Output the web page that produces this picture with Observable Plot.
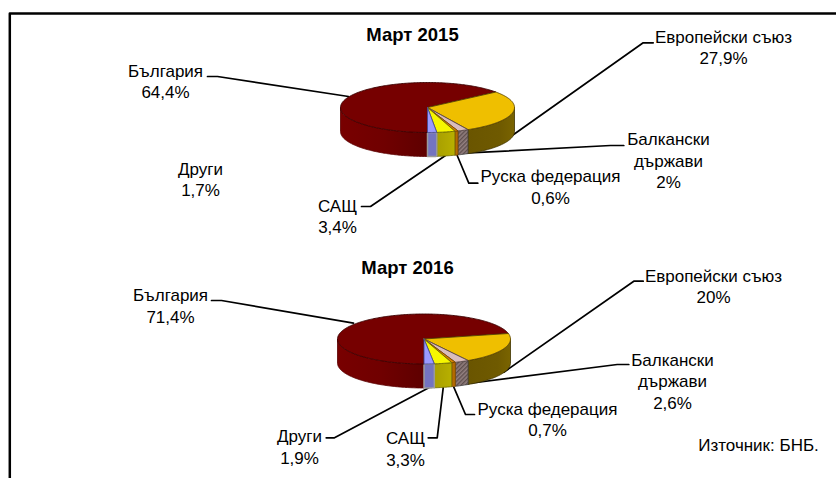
<!DOCTYPE html>
<html>
<head>
<meta charset="utf-8">
<script src="https://cdn.jsdelivr.net/npm/d3@7"></script>
<script src="https://cdn.jsdelivr.net/npm/@observablehq/plot@0.6"></script>
<style>
html,body{margin:0;padding:0;background:#fff;overflow:hidden}
svg{display:block}
</style>
</head>
<body>
<div id="chart"></div>
<script>
// ---- data ----
const categories = ["България", "Европейски съюз", "Балкански\nдържави", "Руска федерация", "САЩ", "Други"];
const values2015 = [64.4, 27.9, 2, 0.6, 3.4, 1.7];
const values2016 = [71.4, 20, 2.6, 0.7, 3.3, 1.9];
const titles = ["Март 2015", "Март 2016"];
const source = "Източник: БНБ.";

// ---- layout (pixel placement of annotations, not data) ----
const pie2015 = {cx: 427, cy: 107, rx: 87, ry: 25, depth: 24};
const pie2016 = {cx: 423.5, cy: 338.5, rx: 86.5, ry: 25, depth: 24};
const labelX2015 = [165, 723, 668, 550, 337, 200];
const labelY2015 = [80, 46, 159.5, 185.5, 215, 178];
const labelX2016 = [170, 713, 672, 547, 405, 299];
const labelY2016 = [304.5, 285, 380, 418, 447.5, 445.5];
const leaders2015 = [
  [[207,76],[217,76],[348,96]],
  [[652.7,42.3],[642.7,42.3],[511.7,135]],
  [[623.3,145],[610,145],[463.3,152.7]],
  [[477.3,182.7],[468.3,182.7],[456.7,155]],
  [[361,206],[370,206],[445,155]]
];
const leaders2016 = [
  [[211,300],[221,300],[353,322.7]],
  [[642.7,280.7],[633.3,280.7],[503.3,371.7]],
  [[628.3,364],[616.7,364],[460,384]],
  [[474,414],[465,414],[453.3,386.7]],
  [[427.7,437.3],[436.7,437.3],[442.7,387.3]],
  [[325.7,437.3],[334,437.3],[428.3,387.3]]
];
const frameLine = [[9.3,478],[9.3,13],[836,13]];

// ---- styles ----
const topColors  = ["#760000", "#efbf00", "#d9bcbc", "#d88400", "#f6f600", "#9a9aff"];
const sideColors = ["url(#gBul)", "url(#gEu)", "url(#hatch)", "#b56a00", "url(#gUsa)", "#7474c0"];
const sideStroke = ["#5a0000", "#3f3300", "#444", "#7a4700", "#6d6800", "#9a9a9a"];
const topStroke  = ["#3a0000", "#5c4600", "#5c4a4a", "#7a4700", "#6d6a00", "#4a4a90"];

const marks = [];

function arc(pie, a0, a1, dy = 0) {
  const n = Math.max(2, Math.ceil(Math.abs(a1 - a0)));
  return d3.range(n + 1).map(i => {
    const a = (a0 + (a1 - a0) * i / n) * Math.PI / 180;
    return [pie.cx + pie.rx * Math.sin(a), pie.cy - pie.ry * Math.cos(a) + dy];
  });
}
function poly(points, fill, stroke, strokeWidth) {
  return Plot.line(points, {x: d => d[0], y: d => d[1], fill, stroke, strokeWidth, curve: "linear", strokeLinejoin: "round"});
}
function drawPie(pie, values) {
  const total = d3.sum(values);
  let a = 180;
  const slices = values.map((v, i) => {
    const s = {i, a0: a, a1: a + v / total * 360};
    a = s.a1;
    return s;
  });
  // visible side walls (front half of the ellipse)
  for (const s of slices) {
    for (const k of [0, 360]) {
      const lo = Math.max(s.a0 - k, 90), hi = Math.min(s.a1 - k, 270);
      if (hi > lo) {
        const upper = arc(pie, lo, hi), lower = arc(pie, hi, lo, pie.depth);
        marks.push(poly([...upper, ...lower, upper[0]], sideColors[s.i], sideStroke[s.i], s.i === 5 ? 1.5 : 0.8));
      }
    }
  }
  // top faces
  for (const s of slices) {
    const pts = arc(pie, s.a0, s.a1);
    marks.push(poly([[pie.cx, pie.cy], ...pts, [pie.cx, pie.cy]], topColors[s.i], topStroke[s.i], 0.9));
  }
}
function drawLeaders(list) {
  for (const l of list) marks.push(Plot.line(l, {x: d => d[0], y: d => d[1], stroke: "#000", strokeWidth: 1.7, curve: "linear"}));
}
function drawLabels(values, xs, ys) {
  const rows = categories.map((c, i) => ({
    text: c + "\n" + String(values[i]).replace(".", ",") + "%",
    x: xs[i], y: ys[i]
  }));
  marks.push(Plot.text(rows, {x: "x", y: "y", text: "text", fontSize: 17, lineHeight: 1.27, fill: "#000", textAnchor: "middle", lineAnchor: "middle"}));
}

marks.push(Plot.line(frameLine, {x: d => d[0], y: d => d[1], stroke: "#000", strokeWidth: 2.5, curve: "linear"}));
drawLeaders(leaders2015);
drawLeaders(leaders2016);
drawPie(pie2015, values2015);
drawPie(pie2016, values2016);
drawLabels(values2015, labelX2015, labelY2015);
drawLabels(values2016, labelX2016, labelY2016);
marks.push(Plot.text(titles, {x: [412, 407], y: [35, 268], text: d => d, fontSize: 18.5, fontWeight: "bold", fill: "#000"}));
marks.push(Plot.text([source], {x: [758], y: [445], text: d => d, fontSize: 17, fill: "#000"}));

const svg = Plot.plot({
  width: 836,
  height: 478,
  margin: 0,
  x: {domain: [0, 836], range: [0, 836], axis: null},
  y: {domain: [0, 478], range: [0, 478], axis: null},
  style: {fontFamily: "'Liberation Sans', Arial, sans-serif", background: "#fff"},
  marks
});

// gradients and hatch used by the wall fills
const defs = d3.select(svg).insert("defs", ":first-child");
function grad(id, stops) {
  const g = defs.append("linearGradient").attr("id", id).attr("x1", 0).attr("x2", 1).attr("y1", 0).attr("y2", 0);
  stops.forEach(([o, c]) => g.append("stop").attr("offset", o).attr("stop-color", c));
}
grad("gBul", [[0, "#780000"], [0.5, "#700000"], [1, "#5e0000"]]);
grad("gEu", [[0, "#6a5500"], [0.7, "#6f5a00"], [1, "#7a6400"]]);
grad("gUsa", [[0, "#a89f00"], [1, "#b8b000"]]);
const hatch = defs.append("pattern").attr("id", "hatch").attr("patternUnits", "userSpaceOnUse")
  .attr("width", 3).attr("height", 3).attr("patternTransform", "rotate(45)");
hatch.append("rect").attr("width", 3).attr("height", 3).attr("fill", "#938080");
hatch.append("rect").attr("width", 1.4).attr("height", 3).attr("fill", "#5f4f4f");

document.getElementById("chart").appendChild(svg);
</script>
</body>
</html>
